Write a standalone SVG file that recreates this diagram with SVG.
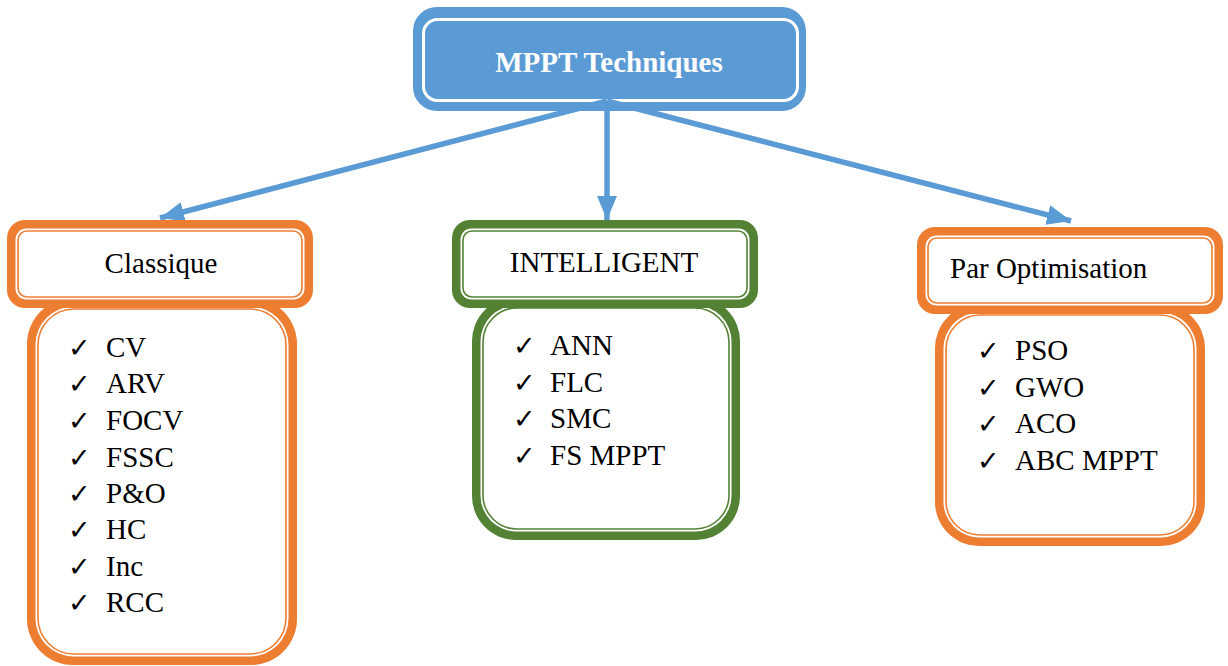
<svg xmlns="http://www.w3.org/2000/svg" width="1228" height="666" viewBox="0 0 1228 666">
<defs>
<style>
.orA{fill:#ED7D31}
.grA{fill:#548235}
.gap{fill:#FFFFFF}
.orL{fill:#FFFFFF;stroke:#ED7D31;stroke-width:1.6}
.grL{fill:#FFFFFF;stroke:#548235;stroke-width:1.6}
text.lbl{font-family:"Liberation Serif","Times New Roman",serif;font-size:29px;fill:#000}
text.chk{font-family:"DejaVu Sans",sans-serif;font-size:27px;font-weight:bold;fill:#000}
text.title{font-family:"Liberation Serif","Times New Roman",serif;font-size:29px;font-weight:bold;fill:#FFFFFF}
.conn{stroke:#5B9BD5;stroke-width:5.5;fill:none}
</style>
<marker id="ah" markerUnits="userSpaceOnUse" markerWidth="26" markerHeight="22" refX="24" refY="10" orient="auto">
<path d="M0,0 L24,10 L0,20 Z" fill="#5B9BD5"/>
</marker>
</defs>

<g id="connectors">
<line class="conn" x1="607" y1="101" x2="160" y2="218" marker-end="url(#ah)"/>
<line class="conn" x1="607" y1="101" x2="607" y2="220" marker-end="url(#ah)"/>
<line class="conn" x1="607" y1="101" x2="1071" y2="221" marker-end="url(#ah)"/>
</g>

<g id="root">
<rect x="413" y="7" width="393" height="104" rx="24" fill="#5B9BD5"/>
<rect x="423.5" y="19.5" width="374" height="81" rx="14" fill="#5B9BD5" stroke="#FFFFFF" stroke-width="3"/>
<text class="title" x="609" y="72" text-anchor="middle">MPPT Techniques</text>
</g>
<g id="root-connector-overlay">
<line class="conn" x1="607" y1="101" x2="590" y2="105.4"/>
<line class="conn" x1="607" y1="101" x2="607" y2="106"/>
<line class="conn" x1="607" y1="101" x2="624" y2="105.4"/>
</g>

<g id="classique-list">
<rect class="orA" x="27" y="298" width="270" height="367" rx="46"/>
<rect class="gap" x="35.5" y="306.5" width="253" height="350" rx="38"/>
<rect class="orL" x="38" y="309" width="248" height="345" rx="36"/>
<text class="chk" x="68" y="357">✓</text><text class="chk" x="68" y="393">✓</text><text class="chk" x="68" y="430">✓</text><text class="chk" x="68" y="467">✓</text>
<text class="chk" x="68" y="503">✓</text><text class="chk" x="68" y="539">✓</text><text class="chk" x="68" y="576">✓</text><text class="chk" x="68" y="612">✓</text>
<text class="lbl" x="106" y="357">CV</text><text class="lbl" x="106" y="393">ARV</text><text class="lbl" x="106" y="430">FOCV</text><text class="lbl" x="106" y="467">FSSC</text>
<text class="lbl" x="106" y="503">P&amp;O</text><text class="lbl" x="106" y="539">HC</text><text class="lbl" x="106" y="576">Inc</text><text class="lbl" x="106" y="612">RCC</text>
</g>

<g id="classique">
<rect class="orA" x="7" y="220" width="306" height="88" rx="18"/>
<rect class="gap" x="15.5" y="228.5" width="289" height="71" rx="11"/>
<rect class="orL" x="18" y="231" width="284" height="66" rx="9"/>
<text class="lbl" x="161" y="273" text-anchor="middle">Classique</text>
</g>

<g id="intelligent-list">
<rect class="grA" x="472" y="297" width="268" height="243" rx="44"/>
<rect class="gap" x="480.5" y="305.5" width="251" height="226" rx="36"/>
<rect class="grL" x="483" y="308" width="246" height="221" rx="34"/>
<text class="chk" x="513" y="355">✓</text><text class="chk" x="513" y="392">✓</text><text class="chk" x="513" y="428">✓</text><text class="chk" x="513" y="465">✓</text>
<text class="lbl" x="550" y="355">ANN</text><text class="lbl" x="550" y="392">FLC</text><text class="lbl" x="550" y="428">SMC</text><text class="lbl" x="550" y="465">FS MPPT</text>
</g>

<g id="intelligent">
<rect class="grA" x="452" y="220" width="306" height="88" rx="18"/>
<rect class="gap" x="460.5" y="228.5" width="289" height="71" rx="11"/>
<rect class="grL" x="463" y="231" width="284" height="66" rx="9"/>
<text class="lbl" x="604" y="272" text-anchor="middle">INTELLIGENT</text>
</g>

<g id="optimisation-list">
<rect class="orA" x="935" y="304" width="270" height="242" rx="44"/>
<rect class="gap" x="943.5" y="312.5" width="253" height="225" rx="36"/>
<rect class="orL" x="946" y="315" width="248" height="220" rx="34"/>
<text class="chk" x="977" y="360">✓</text><text class="chk" x="977" y="397">✓</text><text class="chk" x="977" y="433">✓</text><text class="chk" x="977" y="470">✓</text>
<text class="lbl" x="1015" y="360">PSO</text><text class="lbl" x="1015" y="397">GWO</text><text class="lbl" x="1015" y="433">ACO</text><text class="lbl" x="1015" y="470">ABC MPPT</text>
</g>

<g id="optimisation">
<rect class="orA" x="917" y="227" width="306" height="87" rx="18"/>
<rect class="gap" x="925.5" y="235.5" width="289" height="70" rx="11"/>
<rect class="orL" x="928" y="238" width="284" height="65" rx="9"/>
<text class="lbl" x="950" y="278">Par Optimisation</text>
</g>
</svg>
